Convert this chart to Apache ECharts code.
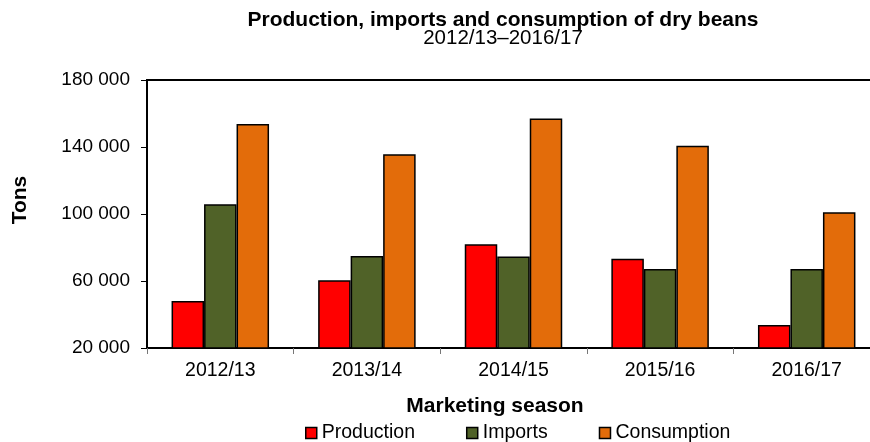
<!DOCTYPE html>
<html>
<head>
<meta charset="utf-8">
<script src="https://cdn.jsdelivr.net/npm/echarts@6/dist/echarts.min.js"></script>
<style>
  html, body { margin: 0; padding: 0; background: #fff; overflow: hidden; }
  #chart { width: 870px; height: 442px; }
</style>
</head>
<body>
<div id="chart"></div>
<script>
// Marketing seasons on the x axis
const seasons = ['2012/13', '2013/14', '2014/15', '2015/16', '2016/17'];

// Tons per season
const production = [48000, 60500, 82000, 73300, 33700];
const imports = [105800, 75000, 74700, 67200, 67200];
const consumption = [153700, 135600, 157000, 140700, 101000];

// Values shown on the tons axis
const tonTicks = [20000, 60000, 100000, 140000, 180000];

const font = 'Liberation Sans, Arial, sans-serif';
const fmt = v => String(v).replace(/\B(?=(\d{3})+(?!\d))/g, ' ');

const chart = echarts.init(document.getElementById('chart'), null, { renderer: 'canvas' });

function barSeries(name, data, color) {
  return {
    name: name,
    type: 'bar',
    data: data,
    barGap: '0%',
    barCategoryGap: '33.5%',
    itemStyle: { color: color, borderColor: '#000', borderWidth: 1.5 },
    emphasis: { disabled: true }
  };
}

chart.setOption({
  animation: false,
  backgroundColor: '#fff',
  grid: {
    left: 147, top: 80, width: 733, height: 268,
    outerBoundsMode: 'none',
    containLabel: false,
    show: true, borderColor: '#000', borderWidth: 2, backgroundColor: 'transparent'
  },
  legend: {
    left: 300,
    top: 418,
    itemWidth: 11,
    itemHeight: 11,
    itemGap: 51,
    icon: 'rect',
    textStyle: { fontFamily: font, fontSize: 19.5, color: '#000' },
    itemStyle: { borderColor: '#000', borderWidth: 1.5 }
  },
  xAxis: {
    type: 'category',
    data: seasons,
    axisLine: { lineStyle: { color: '#000', width: 2 } },
    axisTick: { show: true, length: 6, lineStyle: { color: '#777', width: 1 } },
    axisLabel: { fontFamily: font, fontSize: 19.5, color: '#000', margin: 13 }
  },
  yAxis: {
    type: 'value',
    min: 20000,
    max: 180000,
    splitLine: { show: false },
    axisLine: { show: true, lineStyle: { color: '#000', width: 2 } },
    axisTick: { show: true, length: 6, customValues: tonTicks, lineStyle: { color: '#000', width: 1 } },
    axisLabel: {
      customValues: tonTicks,
      fontFamily: font, fontSize: 19, color: '#000', margin: 17,
      formatter: fmt
    }
  },
  graphic: [
    {
      type: 'text',
      x: 503, y: 20,
      style: { text: 'Production, imports and consumption of dry beans', font: 'bold 21px ' + font, fill: '#000', align: 'center', verticalAlign: 'middle' }
    },
    {
      type: 'text',
      x: 503, y: 38.5,
      style: { text: '2012/13\u20132016/17', font: '20.5px ' + font, fill: '#000', align: 'center', verticalAlign: 'middle' }
    },
    {
      type: 'text',
      x: 20, y: 200,
      rotation: Math.PI / 2,
      style: { text: 'Tons', font: 'bold 21px ' + font, fill: '#000', align: 'center', verticalAlign: 'middle' }
    },
    {
      type: 'text',
      x: 495, y: 406,
      style: { text: 'Marketing season', font: 'bold 21px ' + font, fill: '#000', align: 'center', verticalAlign: 'middle' }
    }
  ],
  series: [
    barSeries('Production', production, '#FF0000'),
    barSeries('Imports', imports, '#506228'),
    barSeries('Consumption', consumption, '#E36C0A')
  ]
});
</script>
</body>
</html>
